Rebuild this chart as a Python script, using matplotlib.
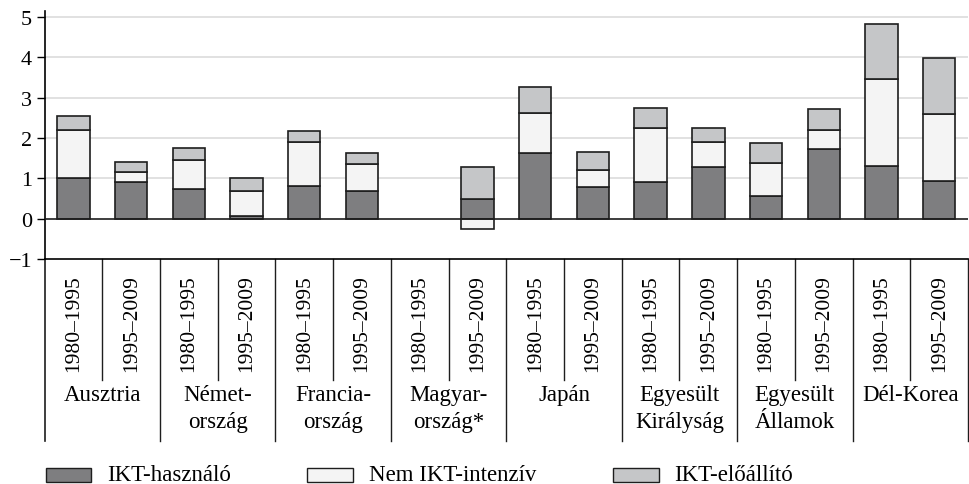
import matplotlib.pyplot as plt
from matplotlib.patches import Rectangle
import numpy as np

plt.rcParams['font.family'] = ['Liberation Serif', 'DejaVu Serif']

countries = ["Ausztria", "Német-\nország", "Francia-\nország", "Magyar-\nország*",
             "Japán", "Egyesült\nKirályság", "Egyesült\nÁllamok", "Dél-Korea"]
periods = ["1980–1995", "1995–2009"]

# one value per bar: country x period, in order
ikt_hasznalo = [1.00, 0.91, 0.74, 0.07, 0.82, 0.68, 0.0, 0.48,
                1.64, 0.78, 0.91, 1.27, 0.56, 1.72, 1.30, 0.93]
nem_ikt = [1.21, 0.25, 0.71, 0.61, 1.09, 0.67, 0.0, -0.26,
           0.98, 0.42, 1.33, 0.64, 0.83, 0.49, 2.16, 1.66]
ikt_eloallito = [0.34, 0.24, 0.31, 0.33, 0.26, 0.29, 0.0, 0.79,
                 0.65, 0.45, 0.51, 0.34, 0.48, 0.50, 1.36, 1.39]

series = [("IKT-használó", ikt_hasznalo, "#7e7e80"),
          ("Nem IKT-intenzív", nem_ikt, "#f4f4f4"),
          ("IKT-előállító", ikt_eloallito, "#c5c6c8")]

fig = plt.figure(figsize=(9.7, 4.85), dpi=100)
ax = fig.add_axes([0.046, 0.464, 0.952, 0.511])

x = np.arange(len(ikt_hasznalo))
pos_base = np.zeros(len(x))
neg_base = np.zeros(len(x))
for name, vals, col in series:
    vals = np.array(vals)
    base = np.where(vals >= 0, pos_base, neg_base)
    mask = vals != 0
    ax.bar(x[mask], vals[mask], bottom=base[mask], width=0.56, color=col,
           edgecolor="#1e1e1e", linewidth=1.2, zorder=3)
    pos_base += np.where(vals >= 0, vals, 0)
    neg_base += np.where(vals < 0, vals, 0)

ax.set_xlim(-0.5, len(x) - 0.5)
ax.set_ylim(-1, 5.15)
ax.set_yticks(range(-1, 6))
ax.set_yticklabels(["−1", "0", "1", "2", "3", "4", "5"], fontsize=16)
ax.tick_params(axis="y", length=6, width=1, pad=3)
ax.set_xticks([])
for yv in range(1, 6):
    ax.axhline(yv, color="#dcdcdc", linewidth=1.2, zorder=1)
ax.axhline(0, color="#1e1e1e", linewidth=1.2, zorder=4)
for s in ["top", "right"]:
    ax.spines[s].set_visible(False)
ax.spines["left"].set_linewidth(1.2)
ax.spines["bottom"].set_linewidth(1.2)

# category table below the axis
tr = ax.get_xaxis_transform()
ax.plot([-0.5, -0.5], [0, -0.735], color="#1e1e1e", lw=1.2, transform=tr, clip_on=False)
for i in range(len(countries)):
    left = 2 * i - 0.5
    ax.plot([left + 1, left + 1], [0, -0.49], color="#1e1e1e", lw=1.0,
            transform=tr, clip_on=False)
    ax.plot([left + 2, left + 2], [0, -0.735], color="#1e1e1e", lw=1.0,
            transform=tr, clip_on=False)
    for j, p in enumerate(periods):
        ax.text(2 * i + j, -0.255, p, rotation=90, ha="center", va="center",
                fontsize=15.5, transform=tr)
    ax.text(2 * i + 0.5, -0.505, countries[i], ha="center", va="top",
            fontsize=16.5, linespacing=1.35, transform=tr)

# legend
leg_x = [0.047, 0.317, 0.632]
for (name, vals, col), lx in zip(series, leg_x):
    fig.patches.append(Rectangle((lx, 0.005), 0.047, 0.029, transform=fig.transFigure,
                                 facecolor=col, edgecolor="#1e1e1e", linewidth=1.0))
    fig.text(lx + 0.063, 0.02, name, fontsize=16.5, va="center", ha="left")

fig.savefig("out.png", dpi=100)
